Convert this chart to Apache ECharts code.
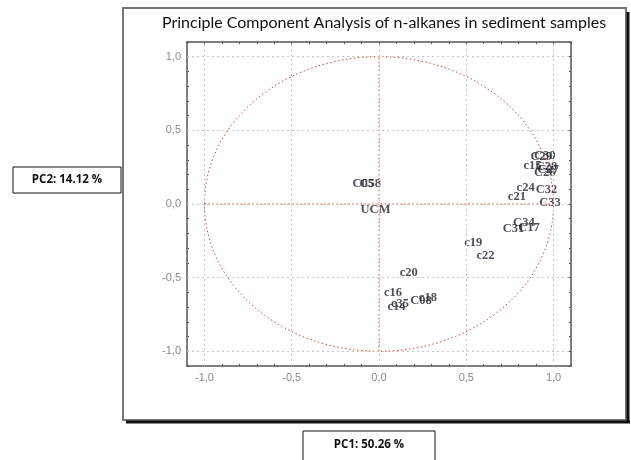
<!DOCTYPE html>
<html>
<head>
<meta charset="utf-8">
<script src="https://cdn.jsdelivr.net/npm/echarts@6/dist/echarts.min.js"></script>
<style>
  html, body { margin: 0; padding: 0; background: #fff; }
  #chart { width: 631px; height: 460px; }
</style>
</head>
<body>
<div id="chart"></div>
<script>
// loadings (PC1, PC2)
const names = ['C30', 'C29', 'c15', 'C28', 'C27', 'C26', 'c24', 'C32', 'c21', 'C33', 'C34', 'C31', 'C17', 'c19', 'c22', 'c20', 'c16', 'c14', 'c35', 'C08', 'c18', 'C05', 'C58', 'UCM']
const pc1 = [0.95, 0.93, 0.88, 0.96, 0.97, 0.95, 0.84, 0.96, 0.79, 0.98, 0.83, 0.77, 0.86, 0.54, 0.61, 0.17, 0.08, 0.10, 0.12, 0.24, 0.28, -0.09, -0.05, -0.02]
const pc2 = [0.33, 0.32, 0.26, 0.25, 0.23, 0.21, 0.11, 0.10, 0.05, 0.01, -0.13, -0.17, -0.16, -0.26, -0.35, -0.47, -0.60, -0.70, -0.68, -0.66, -0.64, 0.14, 0.14, -0.04]
const tickValues = [-1, -0.5, 0, 0.5, 1]

const chart = echarts.init(document.getElementById('chart'))

const labelFmt = (v) => {
  const hit = tickValues.some((t) => Math.abs(t - v) < 1e-6)
  return hit ? v.toFixed(1).replace('.', ',') : ''
}
const frameColor = '#555'
function makeAxis(pos, showLabel) {
  return {
    type: 'value',
    position: pos,
    min: -1.1,
    max: 1.1,
    interval: 0.1,
    axisLine: { show: true, onZero: false, lineStyle: { color: frameColor, width: 1.5 } },
    axisTick: { show: true, inside: true, length: 2, lineStyle: { color: frameColor } },
    axisLabel: {
      show: showLabel,
      formatter: labelFmt,
      color: '#8a8a8a',
      fontSize: 11,
      fontFamily: 'Liberation Sans',
      margin: 6,
      showMinLabel: true,
      showMaxLabel: true
    },
    splitLine: { show: false }
  }
}

const points = names.map((n, i) => ({ name: n, value: [pc1[i], pc2[i]] }))
const redDash = { color: '#e03c3c', width: 1, type: [1.5, 2.5] }

chart.setOption({
  animation: false,
  title: {
    text: 'Principle Component Analysis of n-alkanes in sediment samples',
    left: 379,
    top: 10,
    textAlign: 'center',
    textStyle: { fontFamily: 'Lato', fontWeight: 'normal', fontSize: 16, color: '#111' }
  },
  grid: { left: 187, right: 60, top: 42, bottom: 94 },
  xAxis: [makeAxis('bottom', true), makeAxis('top', false)],
  yAxis: [makeAxis('left', true), makeAxis('right', false)],
  graphic: [
    // outer frame with shadow
    { type: 'rect', shape: { x: 123, y: 8, width: 503, height: 412 }, style: { fill: 'none', stroke: '#777', lineWidth: 2 }, silent: true },
    { type: 'line', shape: { x1: 628, y1: 12, x2: 628, y2: 423 }, style: { stroke: '#111', lineWidth: 3 }, silent: true },
    { type: 'line', shape: { x1: 126, y1: 422, x2: 630, y2: 422 }, style: { stroke: '#111', lineWidth: 3 }, silent: true },
    // axis name boxes
    { type: 'rect', shape: { x: 13, y: 167, width: 108, height: 26 }, style: { fill: '#fff', stroke: '#111', lineWidth: 1 }, silent: true },
    { type: 'text', x: 67, y: 180, style: { text: 'PC2: 14.12 %', fontFamily: 'Open Sans', fontWeight: 'bold', fontSize: 11.5, fill: '#111', align: 'center', verticalAlign: 'middle' }, silent: true },
    { type: 'rect', shape: { x: 303, y: 431, width: 132, height: 40 }, style: { fill: '#fff', stroke: '#111', lineWidth: 1 }, silent: true },
    { type: 'text', x: 369, y: 445, style: { text: 'PC1: 50.26 %', fontFamily: 'Open Sans', fontWeight: 'bold', fontSize: 11.5, fill: '#111', align: 'center', verticalAlign: 'middle' }, silent: true }
  ],
  series: [
    {
      // grid lines at labelled ticks
      type: 'scatter',
      data: [],
      silent: true,
      markLine: {
        silent: true,
        symbol: 'none',
        label: { show: false },
        lineStyle: { color: '#c8c8c8', width: 1, type: [2, 3] },
        data: tickValues.map((v) => ({ xAxis: v })).concat(tickValues.map((v) => ({ yAxis: v })))
      }
    },
    {
      // unit correlation circle
      type: 'custom',
      silent: true,
      data: [[0, 0, 1]],
      renderItem: function (params, api) {
        const c = api.coord([api.value(0), api.value(1)])
        const s = api.size([api.value(2), api.value(2)])
        return {
          type: 'ellipse',
          shape: { cx: c[0], cy: c[1], rx: s[0], ry: s[1] },
          style: { fill: 'none', stroke: redDash.color, lineWidth: 1, lineDash: [1.5, 2.5] }
        }
      }
    },
    { type: 'line', silent: true, symbol: 'none', data: [[-1, 0], [1, 0]], lineStyle: redDash },
    { type: 'line', silent: true, symbol: 'none', data: [[0, -1], [0, 1]], lineStyle: redDash },
    {
      type: 'scatter',
      symbolSize: 1,
      itemStyle: { color: 'rgba(0,0,0,0)' },
      data: points,
      label: {
        show: true,
        position: 'inside',
        formatter: '{b}',
        fontFamily: 'Liberation Serif',
        fontWeight: 'bold',
        fontSize: 12.5,
        color: '#222230'
      },
      labelLayout: { hideOverlap: false }
    }
  ]
})
</script>
</body>
</html>
